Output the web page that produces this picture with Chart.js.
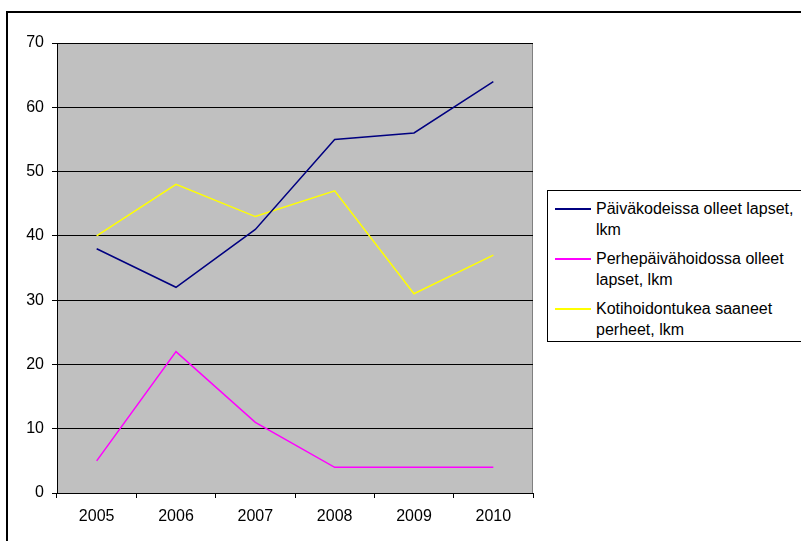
<!DOCTYPE html>
<html>
<head>
<meta charset="utf-8">
<script src="https://cdn.jsdelivr.net/npm/chart.js@4"></script>
<style>
  body { margin: 0; background: #fff; font-family: Arial, "Liberation Sans", sans-serif; }
  #wrap { position: relative; width: 801px; height: 541px; overflow: hidden; }
  #frame { position: absolute; left: 6px; top: 11px; width: 900px; height: 700px; border: 2px solid #000; box-sizing: border-box; pointer-events: none; }
  #legend { position: absolute; left: 547px; top: 190px; width: 260px; height: 152px; border: 1px solid #000; box-sizing: border-box; background: #fff; padding-top: 7px; }
  .item { position: relative; padding-left: 48px; margin-bottom: 8px; }
  .swatch { position: absolute; left: 7px; top: 10px; width: 36px; height: 1.5px; }
  .txt { font-size: 16px; line-height: 21px; color: #000; }
</style>
</head>
<body>
<div id="wrap">
  <canvas id="myChart" width="801" height="541"></canvas>
  <div id="frame"></div>
  <div id="legend"></div>
</div>
<script>
const years = ['2005', '2006', '2007', '2008', '2009', '2010'];
const paivakodit = [38, 32, 41, 55, 56, 64];
const perhepaivahoito = [5, 22, 11, 4, 4, 4];
const kotihoidontuki = [40, 48, 43, 47, 31, 37];
const seriesNames = [
  ['Päiväkodeissa olleet lapset,', 'lkm'],
  ['Perhepäivähoidossa olleet', 'lapset, lkm'],
  ['Kotihoidontukea saaneet', 'perheet, lkm']
];
const seriesColors = ['#000080', '#ff00ff', '#ffff00'];

// gray plot area with a gray outline on top and right
const plotArea = {
  id: 'plotArea',
  beforeDraw(chart) {
    const { ctx, chartArea: a } = chart;
    ctx.save();
    ctx.fillStyle = '#c0c0c0';
    ctx.fillRect(a.left, a.top, a.right - a.left, a.bottom - a.top);
    ctx.strokeStyle = '#808080';
    ctx.lineWidth = 1;
    ctx.beginPath();
    ctx.moveTo(a.left, a.top + 0.5);
    ctx.lineTo(a.right - 0.5, a.top + 0.5);
    ctx.lineTo(a.right - 0.5, a.bottom);
    ctx.stroke();
    ctx.restore();
  }
};

const datasets = [paivakodit, perhepaivahoito, kotihoidontuki].map((d, i) => ({
  label: seriesNames[i].join(' '),
  data: d,
  borderColor: seriesColors[i],
  backgroundColor: seriesColors[i],
  borderWidth: 1.5,
  pointRadius: 0,
  tension: 0,
  fill: false
}));

Chart.defaults.font.family = 'Arial, "Liberation Sans", sans-serif';
Chart.defaults.font.size = 16;
Chart.defaults.color = '#000';

new Chart(document.getElementById('myChart').getContext('2d'), {
  type: 'line',
  data: { labels: years, datasets: datasets },
  plugins: [plotArea],
  options: {
    responsive: false,
    animation: false,
    layout: { padding: { left: 0, top: 43, right: 268, bottom: 0 } },
    scales: {
      x: {
        offset: true,
        grid: { offset: true, drawOnChartArea: false, drawTicks: true, tickLength: 5, color: '#000' },
        border: { color: '#000', width: 1 },
        ticks: { padding: 9, maxRotation: 0 },
        afterFit(scale) { scale.height = 48; }
      },
      y: {
        min: 0,
        max: 70,
        ticks: { stepSize: 10, padding: 8 },
        grid: { color: '#000', lineWidth: 1, tickLength: 5 },
        border: { color: '#000', width: 1 },
        afterFit(scale) { scale.width = 57; }
      }
    },
    plugins: {
      legend: { display: false },
      tooltip: { enabled: false }
    }
  }
});

// legend on the right, two lines per entry like the original
const legend = document.getElementById('legend');
seriesNames.forEach((lines, i) => {
  const item = document.createElement('div');
  item.classList.add('item');
  item.innerHTML = `<span class="swatch" style="background:${seriesColors[i]}"></span><div class="txt">${lines[0]}<br>${lines[1]}</div>`;
  legend.appendChild(item);
});
</script>
</body>
</html>
